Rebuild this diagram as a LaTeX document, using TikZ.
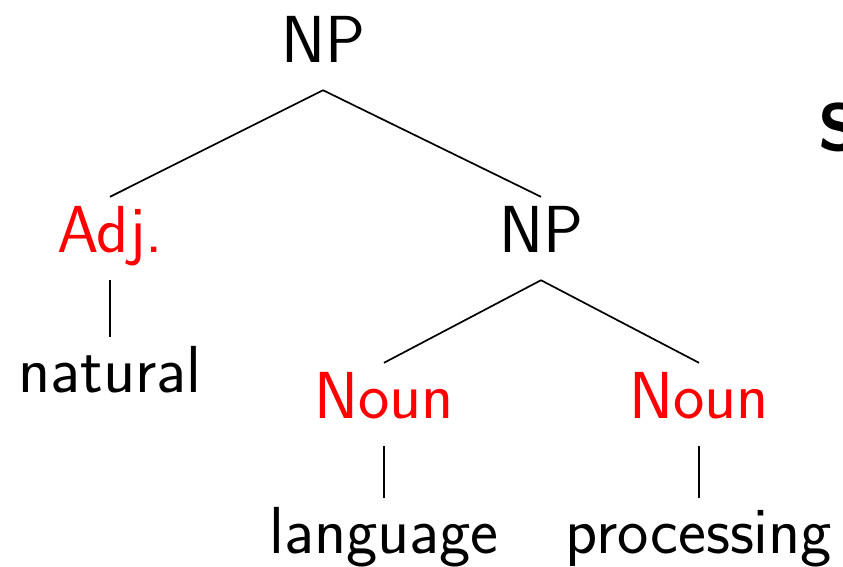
\documentclass[tikz,border=0pt]{standalone}
\begin{document}
\begin{tikzpicture}[x=1pt,y=-1pt,
  lbl/.style={font=\fontsize{66.5}{72}\selectfont\sffamily, inner sep=6pt, text height=49pt, text depth=22pt, anchor=base},
  cat/.style={lbl, text=red},
  edge/.style={line width=1.7pt}]
\useasboundingbox (0,0) rectangle (843,566);
\clip (0,0) rectangle (843,566);
\node[lbl] (np1) at (323,62) {NP};
\node[cat] (adj) at (110,252) {Adj.};
\node[lbl] (np2) at (541,252) {NP};
\node[lbl] (nat) at (110,392) {natural};
\node[cat] (n1) at (384,418) {Noun};
\node[cat] (n2) at (699,418) {Noun};
\node[lbl] (lang) at (384,553) {language};
\node[lbl] (proc) at (699,553) {processing};
\node[font=\fontsize{66.5}{72}\selectfont\sffamily\bfseries, inner sep=0pt, anchor=base west] (s) at (818,150) {S};
\draw[edge] (np1.south) -- (adj.north);
\draw[edge] (np1.south) -- (np2.north);
\draw[edge] (adj.south) -- (nat.north);
\draw[edge] (np2.south) -- (n1.north);
\draw[edge] (np2.south) -- (n2.north);
\draw[edge] (n1.south) -- (lang.north);
\draw[edge] (n2.south) -- (proc.north);
\end{tikzpicture}
\end{document}
